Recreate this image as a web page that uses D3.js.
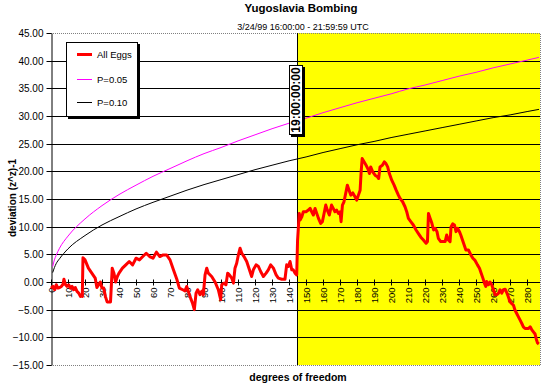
<!DOCTYPE html>
<html>
<head>
<meta charset="utf-8">
<script src="https://cdnjs.cloudflare.com/ajax/libs/d3/7.8.5/d3.min.js"></script>
<style>
  body { margin: 0; background: #fff; }
  svg { display: block; font-family: "Liberation Sans", Arial, sans-serif; }
</style>
</head>
<body>
<svg id="chart" width="547" height="387"></svg>
<script>
// cumulative deviation of all eggs (dof, value)
const eggDof = [0, 1.2, 2.2, 3.1, 4.1, 5.1, 6.1, 7.1, 7.6, 8.4, 9.4, 10.4, 11.4, 12.4, 13.3, 14.3, 15.3, 16.3, 17.3, 17.8, 18.4, 18.8,
  20, 22, 24, 26, 27, 29, 30, 31, 32, 33, 35, 36, 37, 38, 39, 40, 42, 44, 46, 48, 50, 52, 54, 56, 58, 60, 62, 64, 66, 68, 70, 72, 74,
  75.5, 77.5, 78.8, 79.8, 80.8, 82.2, 83.3, 84.3, 85.3, 86.3, 87.6, 88.6, 89.6, 90.6, 91.6, 92.5, 94.5, 96.5, 98.4, 99.8,
  100.4, 101.8, 102.9, 103.9, 104.9, 106.3, 107.3, 108.2, 109.2, 110.2, 111.2, 112.2, 113.5, 115.1, 116.7, 118, 119, 120.6,
  122, 123.3, 124.9, 126.5, 127.8, 129.2, 130.8, 132.4, 133.7, 135.7, 137.6, 138.6, 139.6, 140.6, 141.6, 142.5, 143.5, 144.5,
  145, 146, 146.5, 147.5, 148.4, 150, 151.4, 152.4, 153.3, 154.3, 155.3, 156.3, 157.3, 158.6, 159.6, 160.8, 161.6, 162.5,
  163.7, 165, 166, 167, 168, 169, 170, 170.6, 171.4, 172.3, 173.3, 174.3, 175.3, 176.3, 177.5, 178.8, 179.8, 180.8, 181.8,
  182.4, 183, 184.2, 185.3, 186.3, 187.3, 188, 189.2, 190.6, 192, 192.7, 193.5, 194.9, 196, 197, 198, 199, 200.4, 201.8,
  203, 204.3, 205.3, 206.8, 208.2, 209.2, 210.2, 211.6, 213.1, 214.7, 216, 217.5, 219, 220.6, 221.4, 222, 223, 224, 225,
  226, 227, 227.8, 229.2, 231.8, 232.7, 233.7, 234.7, 235.3, 236.3, 237.3, 238.2, 239.2, 240.2, 241, 242, 243, 244, 245.5,
  246.9, 248.1, 249.4, 250.8, 252, 253, 254, 254.9, 255.7, 256.2, 257.3, 258.2, 259.2, 260.2, 261.2, 262.2, 263.2, 264.1,
  265.1, 266.1, 267.1, 268, 269, 270, 271, 272, 272.9, 273.9, 274.9, 275.9, 276.9, 277.8, 278.8, 280.8, 281.8, 282.7,
  283.7, 284.7, 285.3, 286.1, 286.9];
const eggDev = [-1.1, -0.8, -1.4, -0.5, -1.1, -1.0, -0.8, -0.4, 0.5, -0.4, -0.8, -0.5, -1.1, -0.8, -1.4, -1.0, -1.7, -2.0, -2.6, -2.3, -2.6, 4.4,
  4.0, 2.5, 1.6, 0.7, -1.0, 0, -1.1, -1.1, -2.6, -3.6, -3.6, 2.5, 1.6, 0, 1.0, 1.6, 2.5, 3.1, 3.7, 3.1, 4.3, 4.0, 4.6, 5.2, 4.6, 4.3, 5.4, 4.6, 4.9, 4.9, 4.0, 2.2, 0.5,
  -1.1, -1.4, -1.6, -0.8, -1.7, -3.0, -3.9, -5.0, -2.0, -1.4, -2.3, -1.7, -2.3, 1.3, 2.5, 1.6, 1.0, 0, -1.4, -3.2,
  -0.5, -0.2, -0.5, 1.6, 1.3, 0.7, -0.2, 2.5, 3.4, 4.9, 6.1, 5.2, 4.6, 3.7, 2.2, 1.0, 2.2, 3.1,
  2.8, 1.9, 1.0, 1.6, 2.2, 3.1, 2.5, 1.3, 0.7, 0.5, 0.5, 3.1, 2.8, 3.7, 2.2, 2.2, 1.6, 1.3,
  7.5, 12.4, 11.2, 11.8, 12.7, 12.7, 13.0, 13.3, 12.7, 12.1, 13.3, 12.4, 11.5, 10.6, 10.9, 12.7, 13.9, 13.0,
  12.1, 13.9, 13.3, 12.7, 13.0, 12.4, 12.7, 10.9, 13.9, 14.5, 16.0, 17.5, 16.6, 15.7, 16.1, 15.4, 14.8, 15.7, 16.6,
  19.9, 22.3, 21.7, 21.1, 20.5, 19.6, 20.8, 19.9, 19.3, 19.0, 18.7, 20.8, 21.1, 21.7, 21.4, 20.8, 19.6, 18.4, 17.5,
  16.6, 15.7, 15.1, 14.5, 13.6, 12.7, 11.5, 10.9, 10.3, 9.4, 8.8, 8.1, 7.6, 7.0, 7.3, 12.4, 11.5, 10.6, 9.4,
  9.7, 9.1, 7.9, 7.3, 7.3, 8.5, 7.6, 7.3, 10.0, 10.5, 10.3, 9.1, 9.7, 9.1, 8.5, 7.6, 6.7, 5.8, 5.8,
  4.9, 4.3, 3.9, 3.1, 2.5, 1.6, 0.7, -0.2, -0.8, 0.1, -0.5, 0, -0.5, -1.4, -2.3, -2.3, -2.0, -1.4,
  -2.0, -1.4, -1.3, -1.9, -2.7, -3.6, -3.9, -4.2, -5.1, -5.7, -6.3, -6.9, -7.5, -8.1, -8.4, -8.4, -8.1, -8.6,
  -9.0, -9.4, -10.2, -11.0, -11.2];

// significance curves
const critDof = [1, 2, 3, 5, 10, 20, 30, 40, 50, 60, 70, 80, 90, 100, 110, 120, 130, 140, 150, 160, 170, 180, 190,
  200, 210, 220, 230, 240, 250, 260, 270, 280, 287];
const p05 = [2.8, 4.0, 4.8, 6.1, 8.3, 11.4, 13.8, 15.8, 17.5, 19.1, 20.5, 21.9, 23.2, 24.3, 25.5, 26.6, 27.7, 28.7,
  29.6, 30.6, 31.5, 32.4, 33.2, 34.0, 34.9, 35.6, 36.4, 37.2, 37.9, 38.7, 39.4, 40.1, 40.6];
const p10 = [1.7, 2.6, 3.3, 4.2, 6.0, 8.4, 10.3, 11.8, 13.2, 14.4, 15.5, 16.6, 17.6, 18.5, 19.4, 20.3, 21.1, 21.9,
  22.6, 23.4, 24.1, 24.8, 25.4, 26.1, 26.7, 27.3, 27.9, 28.5, 29.1, 29.7, 30.2, 30.8, 31.2];

const xTicks = [0, 10, 20, 30, 40, 50, 60, 70, 80, 90, 100, 110, 120, 130, 140, 150, 160, 170, 180, 190, 200,
  210, 220, 230, 240, 250, 260, 270, 280];
const yTicks = [-15, -10, -5, 0, 5, 10, 15, 20, 25, 30, 35, 40, 45];
const markerDof = 144.9;
const markerLabel = "19:00:00:00";
const legendItems = [
  { name: "All Eggs", color: "#ff0000", width: 3 },
  { name: "P=0.05", color: "#ff00ff", width: 1 },
  { name: "P=0.10", color: "#000000", width: 1 }
];

const svg = d3.select("#chart");
const plotL = 51, plotR = 540, plotT = 33, plotB = 365;

const x = d3.scaleLinear().domain([0, 287]).range([plotL, 539]);
const y = d3.scaleLinear().domain([-15, 45]).range([plotB, plotT]);
const mx = Math.round(x(markerDof));

// yellow half after the marker
svg.append("rect")
  .attr("x", mx)
  .attr("y", plotT)
  .attr("width", plotR - mx)
  .attr("height", plotB - plotT)
  .attr("fill", "#ffff00");

// gridlines
svg.append("g").selectAll("line")
  .data(yTicks.filter(d => d > -15 && d < 45))
  .join("line")
  .attr("x1", plotL).attr("x2", plotR)
  .attr("y1", d => Math.round(y(d)) + 0.5)
  .attr("y2", d => Math.round(y(d)) + 0.5)
  .attr("stroke", "#000").attr("stroke-width", 1);

// plot border (dotted)
svg.append("path")
  .attr("d", `M${plotL},${plotT + 0.5}H${plotR + 0.5}V${plotB + 0.5}H${plotL}`)
  .attr("fill", "none")
  .attr("stroke", "#808080")
  .attr("stroke-dasharray", "1,1");

// marker line
svg.append("line")
  .attr("x1", mx + 0.5).attr("x2", mx + 0.5)
  .attr("y1", plotT).attr("y2", plotB)
  .attr("stroke", "#000");

// y axis
const yAxis = svg.append("g")
  .attr("transform", `translate(${plotL + 0.5},0)`)
  .call(d3.axisLeft(y).tickValues(yTicks).tickFormat(d3.format(".2f")).tickSize(5).tickSizeOuter(0).tickPadding(3));
yAxis.selectAll("text").attr("font-size", 10).attr("fill", "#000");
yAxis.selectAll("line, path").attr("stroke", "#000");
yAxis.selectAll(".tick").attr("transform", d => `translate(0,${Math.round(y(d)) + 0.5})`);
yAxis.attr("font-family", null);

// x axis through zero
const xAxis = svg.append("g")
  .attr("transform", `translate(0,${Math.round(y(0)) + 0.5})`)
  .call(d3.axisBottom(x).tickValues(xTicks).tickSizeOuter(0));
xAxis.attr("font-family", null);
xAxis.select(".domain").attr("d", `M${plotL},0H${plotR}`).attr("stroke", "#000");
xAxis.selectAll(".tick line").attr("y1", -3).attr("y2", 3).attr("stroke", "#000");
xAxis.selectAll(".tick").attr("transform", d => `translate(${Math.round(x(d)) + 0.5},0)`);
xAxis.selectAll(".tick text")
  .attr("transform", "rotate(-90)")
  .attr("x", -5).attr("y", 0).attr("dy", "0.35em")
  .attr("text-anchor", "end")
  .attr("font-size", 9.5)
  .attr("fill", "#000");

// significance curves
const curve = d3.line().x(d => x(d[0])).y(d => y(d[1])).curve(d3.curveMonotoneX);
svg.append("path")
  .datum(d3.zip(critDof, p05))
  .attr("d", curve)
  .attr("fill", "none").attr("stroke", "#ff00ff").attr("stroke-width", 1);
svg.append("path")
  .datum(d3.zip(critDof, p10))
  .attr("d", curve)
  .attr("fill", "none").attr("stroke", "#000").attr("stroke-width", 1);

// eggs
const line = d3.line().x(d => x(d[0])).y(d => y(d[1]));
svg.append("path")
  .datum(d3.zip(eggDof, eggDev))
  .attr("d", line)
  .attr("fill", "none").attr("stroke", "#ff0000").attr("stroke-width", 3)
  .attr("stroke-linejoin", "round");

// marker label box
const mbox = svg.append("g");
mbox.append("rect").attr("x", mx - 6).attr("y", 67).attr("width", 14).attr("height", 70).attr("fill", "#000");
mbox.append("rect").attr("x", mx - 7.5).attr("y", 65.5).attr("width", 13).attr("height", 69)
  .attr("fill", "#fff").attr("stroke", "#000");
mbox.append("text")
  .attr("transform", `translate(${mx - 1},100) rotate(-90)`)
  .attr("text-anchor", "middle").attr("dy", "0.36em")
  .attr("font-size", 12).attr("font-weight", "bold")
  .text(markerLabel);

// legend
const lg = svg.append("g");
lg.append("rect").attr("x", 68).attr("y", 44).attr("width", 72).attr("height", 75).attr("fill", "#000");
lg.append("rect").attr("x", 66.5).attr("y", 42.5).attr("width", 71).attr("height", 74)
  .attr("fill", "#fff").attr("stroke", "#000");
const rows = lg.selectAll("g.row").data(legendItems).join("g")
  .attr("transform", (d, i) => `translate(0,${[54, 79, 102][i]})`);
rows.append("line").attr("x1", 77).attr("x2", 92).attr("y1", 0.5).attr("y2", 0.5)
  .attr("stroke", d => d.color).attr("stroke-width", d => d.width);
rows.append("text").attr("x", 97).attr("y", 4).attr("font-size", 9.5).text(d => d.name);

// titles
svg.append("text").attr("x", 301).attr("y", 12).attr("text-anchor", "middle")
  .attr("font-size", 11.5).attr("font-weight", "bold").text("Yugoslavia Bombing");
svg.append("text").attr("x", 303).attr("y", 30).attr("text-anchor", "middle")
  .attr("font-size", 9).text("3/24/99 16:00:00 - 21:59:59 UTC");
svg.append("text").attr("x", 298).attr("y", 381).attr("text-anchor", "middle")
  .attr("font-size", 10.5).attr("font-weight", "bold").text("degrees of freedom");
svg.append("text").attr("transform", "translate(12,198) rotate(-90)").attr("text-anchor", "middle")
  .attr("dy", "0.35em").attr("font-size", 10).attr("font-weight", "bold").text("deviation (z^z)-1");
</script>
</body>
</html>
